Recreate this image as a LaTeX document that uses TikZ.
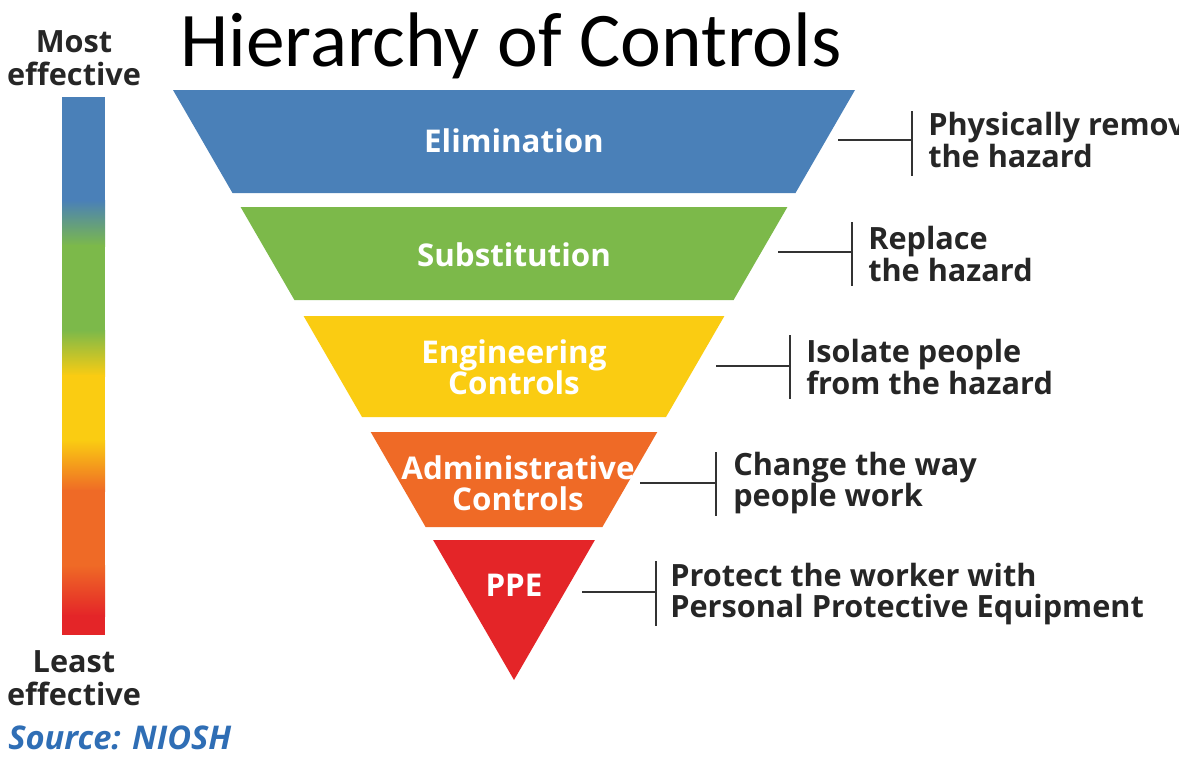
\documentclass[tikz,border=0pt]{standalone}
\usepackage{fontspec}
\setmainfont{Open Sans}
\newfontfamily\titlefont{Carlito}
\definecolor{cBlue}{HTML}{4A80B8}
\definecolor{cGreen}{HTML}{7CB94A}
\definecolor{cYellow}{HTML}{FACC12}
\definecolor{cOrange}{HTML}{EF6A26}
\definecolor{cRed}{HTML}{E42528}
\definecolor{cSource}{HTML}{2F6EB5}
\definecolor{cLine}{HTML}{333333}
\begin{document}
\begin{tikzpicture}[x=0.75pt,y=-0.75pt,
  inlbl/.style={text=white,font=\bfseries\fontsize{23.5}{23.5}\selectfont,align=center,inner sep=0pt},
  sidelbl/.style={text=black!85,font=\bfseries\fontsize{23}{23.5}\selectfont,align=left,anchor=west,inner sep=0pt},
  endlbl/.style={text=black!85,font=\bfseries\fontsize{23}{25}\selectfont,align=center,inner sep=0pt},
  conn/.style={draw=cLine,line width=2pt}]
\clip (0,0) rectangle (1179,778);
\fill[white] (0,0) rectangle (1179,778);
% title
\node[font=\titlefont\fontsize{58}{60}\selectfont,anchor=base west,inner sep=0pt] (title) at (180,66) {Hierarchy of Controls};
% left labels
\node[endlbl] (most) at (74,58) {Most\\effective};
\node[endlbl] (least) at (74,678) {Least\\effective};
\node[text=cSource,font=\bfseries\itshape\fontsize{24.5}{26}\selectfont,anchor=west,inner sep=0pt] (source) at (8,738) {Source: NIOSH};
% gradient bar
\fill[cBlue] (62,97) rectangle (105,201);
\shade[top color=cBlue,bottom color=cGreen] (62,200) rectangle (105,246);
\fill[cGreen] (62,245) rectangle (105,331);
\shade[top color=cGreen,bottom color=cYellow] (62,330) rectangle (105,376);
\fill[cYellow] (62,375) rectangle (105,441);
\shade[top color=cYellow,bottom color=cOrange] (62,440) rectangle (105,491);
\fill[cOrange] (62,490) rectangle (105,566);
\shade[top color=cOrange,bottom color=cRed] (62,565) rectangle (105,616);
\fill[cRed] (62,615) rectangle (105,635);
% pyramid levels
\fill[cBlue] (173,90) -- (855,90) -- (795.5,193) -- (232.5,193) -- cycle;
\fill[cGreen] (240.6,207) -- (787.4,207) -- (733.6,300) -- (294.4,300) -- cycle;
\fill[cYellow] (303.6,316) -- (724.4,316) -- (666,417) -- (362,417) -- cycle;
\fill[cOrange] (370.7,432) -- (657.3,432) -- (602.4,527) -- (425.6,527) -- cycle;
\fill[cRed] (433.1,540) -- (594.9,540) -- (514,680) -- cycle;
\node[inlbl] (elim) at (514,141) {Elimination};
\node[inlbl] (subs) at (514,255) {Substitution};
\node[inlbl] (eng) at (514,367) {Engineering\\Controls};
\node[inlbl] (adm) at (518,483) {Administrative\\Controls};
\node[inlbl] (ppe) at (514,585) {PPE};
% connectors
\coordinate (e1) at (838,140); \coordinate (e2) at (912,140);
\coordinate (e2t) at (912,111); \coordinate (e2b) at (912,176);
\coordinate (s1) at (778,252); \coordinate (s2) at (852,252);
\coordinate (s2t) at (852,222); \coordinate (s2b) at (852,286);
\coordinate (g1) at (716,366); \coordinate (g2) at (790,366);
\coordinate (g2t) at (790,335); \coordinate (g2b) at (790,399);
\coordinate (a1) at (640,483); \coordinate (a2) at (716,483);
\coordinate (a2t) at (716,452); \coordinate (a2b) at (716,516);
\coordinate (p1) at (582,592); \coordinate (p2) at (656,592);
\coordinate (p2t) at (656,561); \coordinate (p2b) at (656,626);
\draw[conn] (e1) -- (e2); \draw[conn] (e2t) -- (e2b);
\draw[conn] (s1) -- (s2); \draw[conn] (s2t) -- (s2b);
\draw[conn] (g1) -- (g2); \draw[conn] (g2t) -- (g2b);
\draw[conn] (a1) -- (a2); \draw[conn] (a2t) -- (a2b);
\draw[conn] (p1) -- (p2); \draw[conn] (p2t) -- (p2b);
% side labels
\node[sidelbl] (elimtxt) at (928,140) {Physically remove\\the hazard};
\node[sidelbl] (substxt) at (868,254) {Replace\\the hazard};
\node[sidelbl] (engtxt) at (806,367) {Isolate people\\from the hazard};
\node[sidelbl] (admtxt) at (733,483) {Change the way\\people work};
\node[sidelbl] (ppetxt) at (670,594) {Protect the worker with\\Personal Protective Equipment};
\end{tikzpicture}
\end{document}
